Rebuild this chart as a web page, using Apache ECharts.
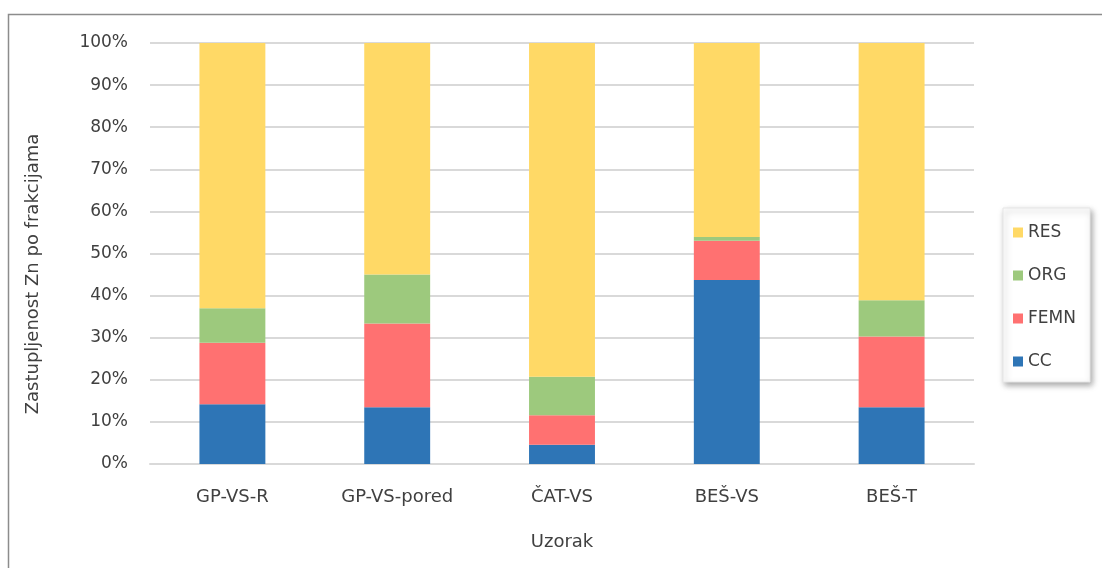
<!DOCTYPE html>
<html><head><meta charset="utf-8">
<script src="https://cdn.jsdelivr.net/npm/echarts@6/dist/echarts.min.js"></script>
<style>html,body{margin:0;padding:0;background:#fff}#c{width:1102px;height:568px}</style>
</head><body><div id="c"></div>
<script>
const categories = ['GP-VS-R','GP-VS-pored','ČAT-VS','BEŠ-VS','BEŠ-T'];
const CC   = [14.2, 13.5, 4.6, 43.7, 13.5];
const FEMN = [14.6, 19.9, 7.0, 9.3, 16.8];
const ORG  = [8.2, 11.6, 9.1, 0.9, 8.6];
const RES  = [63.0, 55.0, 79.3, 46.1, 61.1];
const yTicks = [0,10,20,30,40,50,60,70,80,90,100];
const yTitle = 'Zastupljenost Zn po frakcijama';

const font = 'DejaVu Sans';
const chart = echarts.init(document.getElementById('c'), null, {renderer:'canvas'});
function s(name, data, color){
  return {name, type:'bar', stack:'a', data, barWidth:'40%', itemStyle:{color}, emphasis:{disabled:true}};
}
chart.setOption({
  animation:false,
  textStyle:{fontFamily:font},
  graphic:[
    {type:'polyline', shape:{points:[[8.5,568],[8.5,14.5],[1102,14.5]]}, style:{stroke:'#8c8c8c', lineWidth:1.5, fill:null}},
    {type:'rect', shape:{x:1003, y:208, width:87, height:174}, style:{fill:'#fff', stroke:'#e6e6e6', lineWidth:1, shadowBlur:6, shadowOffsetX:2, shadowOffsetY:3, shadowColor:'rgba(0,0,0,0.35)'}, z:-1},
    {type:'text', x:33, y:274, rotation:Math.PI/2, style:{text:yTitle, fontSize:18, fill:'#404040', fontFamily:font, align:'center', verticalAlign:'middle'}}
  ],
  grid:{left:150, right:128, top:43, bottom:104, containLabel:false},
  legend:{
    orient:'vertical', left:1008, top:219, itemGap:26, itemWidth:10, itemHeight:10,
    icon:'rect', data:['RES','ORG','FEMN','CC'],
    textStyle:{fontSize:17, color:'#404040', fontFamily:font, padding:[0,0,0,0]}
  },
  xAxis:{
    type:'category', data:categories,
    name:'Uzorak', nameLocation:'middle', nameGap:69,
    nameTextStyle:{fontSize:18, color:'#404040', fontFamily:font},
    axisLine:{lineStyle:{color:'#d9d9d9', width:2}}, axisTick:{show:false},
    axisLabel:{fontSize:18, color:'#404040', margin:24, fontFamily:font}
  },
  yAxis:{
    type:'value', min:0, max:100, interval:10,
    axisLine:{show:false}, axisTick:{show:false},
    splitLine:{lineStyle:{color:'#d9d9d9', width:2}},
    axisLabel:{fontSize:17, color:'#404040', margin:22, fontFamily:font,
      formatter:v=> yTicks.includes(v) ? v+'%' : ''}
  },
  series:[
    s('CC', CC, '#2e75b6'),
    s('FEMN', FEMN, '#ff7171'),
    s('ORG', ORG, '#9dc97d'),
    s('RES', RES, '#ffd966')
  ]
});
</script></body></html>
